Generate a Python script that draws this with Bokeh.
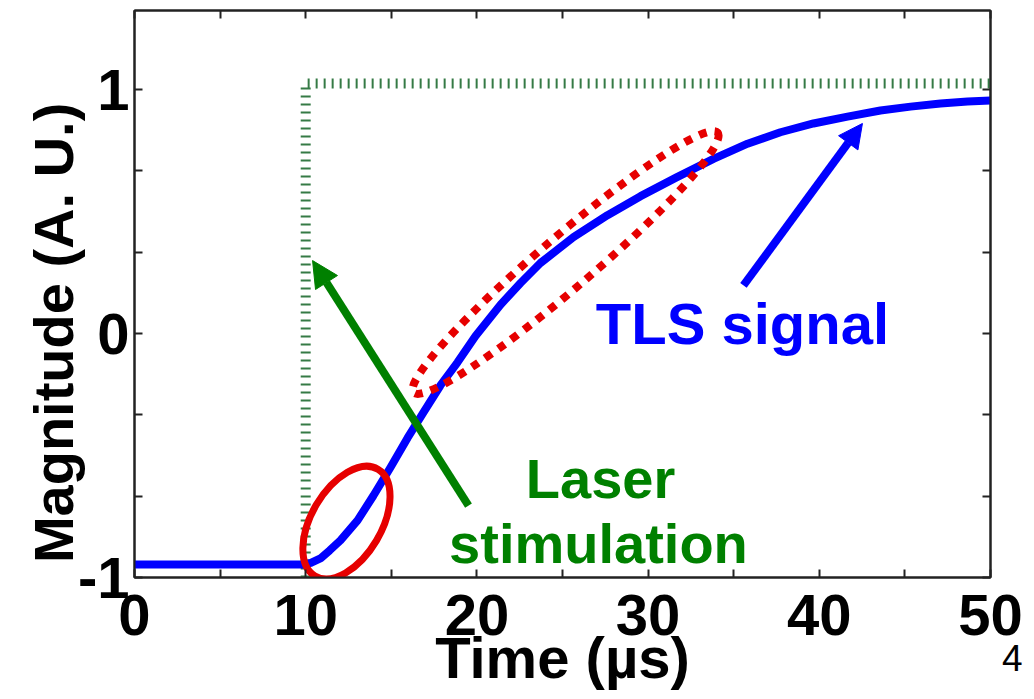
from math import radians

from bokeh.embed import file_html
from bokeh.models import Arrow, FixedTicker, Label, LinearAxis, NormalHead, Range1d, Title
from bokeh.plotting import figure
from bokeh.resources import INLINE

# TLS response (A. U.) versus time (µs)
time_us = [0.0, 9.87, 10.30, 10.86, 11.40, 12.03, 13.03, 13.96, 14.95, 15.95,
           16.88, 17.87, 18.87, 19.92, 21.38, 22.55, 23.71, 25.64, 27.63, 29.56,
           31.66, 33.82, 35.81, 37.73, 39.66, 41.65, 43.57, 45.33, 47.08, 48.66,
           50.0]
tls_signal = [-0.947, -0.947, -0.940, -0.922, -0.889, -0.848, -0.766, -0.664,
              -0.549, -0.428, -0.323, -0.213, -0.118, -0.010, 0.118, 0.207,
              0.289, 0.395, 0.485, 0.563, 0.640, 0.716, 0.778, 0.825, 0.861,
              0.889, 0.914, 0.930, 0.943, 0.951, 0.955]

# laser stimulation step
laser_time = [10.0, 10.0, 50.0]
laser_level = [-1.0, 1.025, 1.025]

x_ticks = [0, 10, 20, 30, 40, 50]
x_minor_ticks = [5, 15, 25, 35, 45]
y_ticks = [-1, 0, 1]
y_tick_labels = {-1: "-1", 0: "0", 1: "1"}
y_minor_ticks = [-2 / 3, -1 / 3, 1 / 3, 2 / 3]

FONT = "Liberation Sans"
BLUE = "#0000ff"
GREEN = "#008000"
RED = "#e60000"
AXIS = "#222222"
NBSP = "\u00a0"

p = figure(width=1034, height=699, output_backend="svg", toolbar_location=None,
           x_range=Range1d(0, 50), y_range=Range1d(-1, 1.324),
           min_border_left=134, min_border_right=44,
           min_border_top=10, min_border_bottom=122)
p.background_fill_color = "white"
p.border_fill_color = "white"
p.outline_line_color = AXIS
p.outline_line_width = 2
p.grid.visible = False


def style_axis(ax, ticks, minor, show_labels):
    ax.ticker = FixedTicker(ticks=ticks, minor_ticks=minor)
    ax.axis_line_color = AXIS
    ax.axis_line_width = 2
    ax.major_tick_in = 8
    ax.major_tick_out = 0
    ax.minor_tick_in = 8
    ax.minor_tick_out = 0
    ax.major_tick_line_color = AXIS
    ax.minor_tick_line_color = AXIS
    ax.major_tick_line_width = 2
    ax.minor_tick_line_width = 2
    if show_labels:
        ax.major_label_text_font = FONT
        ax.major_label_text_font_style = "bold"
        ax.major_label_text_font_size = "58px"
        ax.major_label_text_color = "black"
        ax.axis_label_text_font = FONT
        ax.axis_label_text_font_style = "bold"
        ax.axis_label_text_color = "black"
    else:
        ax.major_label_text_font_size = "0px"
        ax.major_label_standoff = 0


xa = p.xaxis[0]
style_axis(xa, x_ticks, x_minor_ticks, True)
xa.major_label_standoff = 17
xa.axis_label = "Time (µs)"
xa.axis_label_text_font_size = "58px"
xa.axis_label_standoff = -13

ya = p.yaxis[0]
style_axis(ya, y_ticks, y_minor_ticks, True)
ya.major_label_standoff = 5
ya.major_label_orientation = "horizontal"
ya.major_label_overrides = y_tick_labels
# trailing no-break spaces move the title a little towards the bottom
ya.axis_label = "Magnitude (A. U.)" + NBSP * 5
ya.axis_label_text_font_size = "56px"
ya.axis_label_standoff = -10

top_ax = LinearAxis()
style_axis(top_ax, x_ticks, x_minor_ticks, False)
p.add_layout(top_ax, "above")
right_ax = LinearAxis()
style_axis(right_ax, y_ticks, y_minor_ticks, False)
p.add_layout(right_ax, "right")

# page number in the lower right corner
p.add_layout(Title(text="4", align="right", vertical_align="top",
                   text_font=FONT, text_font_size="37px",
                   text_font_style="normal", text_color="black",
                   offset=-32, standoff=-96), "below")

# stimulation step (dotted)
p.line(laser_time, laser_level, line_color="#357a45", line_width=10,
       line_dash="2 6")

# measured TLS signal
p.line(time_us, tls_signal, line_color=BLUE, line_width=8, line_join="round")

# highlighted regions
p.ellipse(x=[12.38], y=[-0.775], width=124, height=70, angle=radians(59.5),
          width_units="screen", height_units="screen",
          fill_color=None, line_color=RED, line_width=7)
p.ellipse(x=[25.18], y=[0.291], width=400, height=52, angle=radians(40.5),
          width_units="screen", height_units="screen",
          fill_color=None, line_color=RED, line_width=8, line_dash="8 8")

# pointer arrows
p.add_layout(Arrow(end=NormalHead(size=26, fill_color=GREEN, line_color=GREEN),
                   x_start=19.51, y_start=-0.705, x_end=10.40, y_end=0.299,
                   line_color=GREEN, line_width=8))
p.add_layout(Arrow(end=NormalHead(size=24, fill_color=BLUE, line_color=BLUE),
                   x_start=35.57, y_start=0.197, x_end=42.52, y_end=0.861,
                   line_color=BLUE, line_width=8))


def add_text(x, y, text, color, size):
    p.add_layout(Label(x=x, y=y, text=text, text_color=color,
                       text_font=FONT, text_font_size=size,
                       text_font_style="bold",
                       text_align="center", text_baseline="alphabetic"))


add_text(27.22, -0.594, "Laser", GREEN, "56px")
add_text(27.10, -0.861, "stimulation", GREEN, "56px")
add_text(35.51, 0.043, "TLS signal", BLUE, "58px")

open("out.html", "w").write(file_html(p, INLINE))
